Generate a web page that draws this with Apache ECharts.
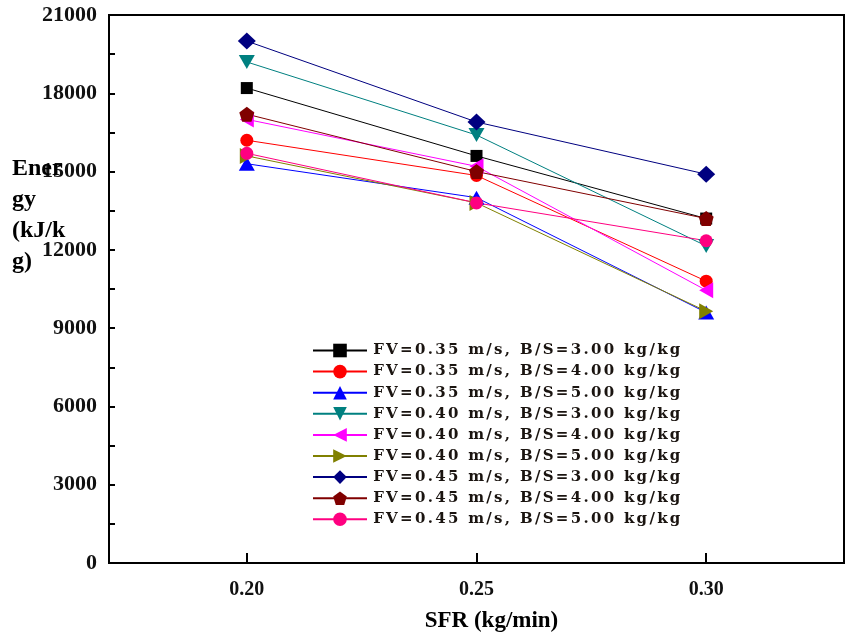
<!DOCTYPE html>
<html>
<head>
<meta charset="utf-8">
<script src="https://cdn.jsdelivr.net/npm/echarts@6/dist/echarts.min.js"></script>
<style>
  html, body { margin: 0; padding: 0; background: #fff; }
  #chart { width: 849px; height: 642px; }
</style>
</head>
<body>
<div id="chart"></div>
<script>
// Solids feed rate (kg/min) on the x axis
const sfr = [0.20, 0.25, 0.30];
const xTicks = [0.20, 0.25, 0.30];

// Energy (kJ/kg) for each fluidizing velocity / biomass-to-solid ratio
const names = [
  'FV=0.35 m/s, B/S=3.00 kg/kg',
  'FV=0.35 m/s, B/S=4.00 kg/kg',
  'FV=0.35 m/s, B/S=5.00 kg/kg',
  'FV=0.40 m/s, B/S=3.00 kg/kg',
  'FV=0.40 m/s, B/S=4.00 kg/kg',
  'FV=0.40 m/s, B/S=5.00 kg/kg',
  'FV=0.45 m/s, B/S=3.00 kg/kg',
  'FV=0.45 m/s, B/S=4.00 kg/kg',
  'FV=0.45 m/s, B/S=5.00 kg/kg'
];
const fv035bs3 = [18200, 15600, 13200];
const fv035bs4 = [16200, 14850, 10800];
const fv035bs5 = [15300, 14000, 9600];
const fv040bs3 = [19200, 16400, 12150];
const fv040bs4 = [17000, 15200, 10450];
const fv040bs5 = [15600, 13800, 9650];
const fv045bs3 = [20000, 16900, 14900];
const fv045bs4 = [17200, 15000, 13200];
const fv045bs5 = [15700, 13800, 12350];
const values = [fv035bs3, fv035bs4, fv035bs5, fv040bs3, fv040bs4, fv040bs5, fv045bs3, fv045bs4, fv045bs5];

const yTickStep = 3000;
const yMax = 21000;

// Marker styling per series
const pentagon = 'path://M0,-1L0.951,-0.309L0.588,0.809L-0.588,0.809L-0.951,-0.309Z';
const styles = [
  { color: '#000000', symbol: 'rect', size: 12, rotate: 0 },
  { color: '#FF0000', symbol: 'circle', size: 13, rotate: 0 },
  { color: '#0000FF', symbol: 'triangle', size: [16, 14], rotate: 0 },
  { color: '#008080', symbol: 'triangle', size: [16, 14], rotate: 180 },
  { color: '#FF00FF', symbol: 'triangle', size: [16, 14], rotate: 90 },
  { color: '#808000', symbol: 'triangle', size: [16, 14], rotate: -90 },
  { color: '#000080', symbol: 'diamond', size: [18, 17], rotate: 0 },
  { color: '#800000', symbol: pentagon, size: 15, rotate: 0 },
  { color: '#FF0080', symbol: 'circle', size: 13, rotate: 0 }
];

const serif = '"Liberation Serif", "Times New Roman", serif';
const wideSerif = '"DejaVu Serif", serif';

const series = names.map((name, i) => ({
  name: name,
  type: 'line',
  data: sfr.map((x, j) => [x, values[i][j]]),
  symbol: styles[i].symbol,
  symbolSize: styles[i].size,
  symbolRotate: styles[i].rotate,
  showAllSymbol: true,
  itemStyle: { color: styles[i].color },
  lineStyle: { color: styles[i].color, width: 1 },
  emphasis: { disabled: true },
  animation: false
}));

const chart = echarts.init(document.getElementById('chart'));
chart.setOption({
  backgroundColor: '#ffffff',
  animation: false,
  title: {
    text: 'Ener\ngy\n(kJ/k\ng)',
    left: 7,
    top: 148,
    textStyle: {
      fontFamily: serif,
      fontWeight: 'bold',
      fontSize: 24,
      lineHeight: 31,
      color: '#000'
    }
  },
  grid: {
    left: 109,
    right: 5,
    top: 15,
    bottom: 79,
    show: true,
    borderColor: '#000',
    borderWidth: 2,
    containLabel: false
  },
  legend: {
    orient: 'vertical',
    left: 312,
    top: 343,
    padding: 0,
    itemWidth: 54,
    itemHeight: 17,
    itemGap: 6.1,
    data: names,
    formatter: function (name) {
      // spread the characters out a little, as in the printed legend
      return name.split('').map(function (ch) { return '{c|' + ch + '}'; }).join('');
    },
    textStyle: {
      rich: {
        c: {
          fontFamily: wideSerif,
          fontWeight: 'bold',
          fontSize: 15,
          color: '#1a1410',
          padding: [0, 1.15, 0, 1.15]
        }
      }
    }
  },
  xAxis: {
    type: 'value',
    min: 0.17,
    max: 0.33,
    name: 'SFR (kg/min)',
    nameLocation: 'middle',
    nameGap: 47,
    nameTextStyle: {
      fontFamily: serif, fontWeight: 'bold', fontSize: 23, color: '#000',
      padding: [0, 0, 0, 30]
    },
    axisLine: { show: true, lineStyle: { color: '#000', width: 2 } },
    axisTick: { show: true, inside: true, length: 10, customValues: xTicks, lineStyle: { color: '#000', width: 2 } },
    axisLabel: {
      customValues: xTicks,
      formatter: function (v) { return v.toFixed(2); },
      margin: 17,
      fontFamily: serif,
      fontWeight: 'bold',
      fontSize: 20,
      color: '#111'
    },
    splitLine: { show: false }
  },
  yAxis: {
    type: 'value',
    min: 0,
    max: yMax,
    interval: yTickStep,
    axisLine: { show: true, lineStyle: { color: '#000', width: 2 } },
    axisTick: { show: true, inside: true, length: 6, lineStyle: { color: '#000', width: 2 } },
    minorTick: { show: true, splitNumber: 2, length: 6, lineStyle: { color: '#000', width: 2 } },
    axisLabel: {
      margin: 12,
      formatter: function (v) { return String(v); },
      fontFamily: serif,
      fontWeight: 'bold',
      fontSize: 22,
      color: '#111'
    },
    splitLine: { show: false },
    minorSplitLine: { show: false }
  },
  series: series
});
</script>
</body>
</html>
